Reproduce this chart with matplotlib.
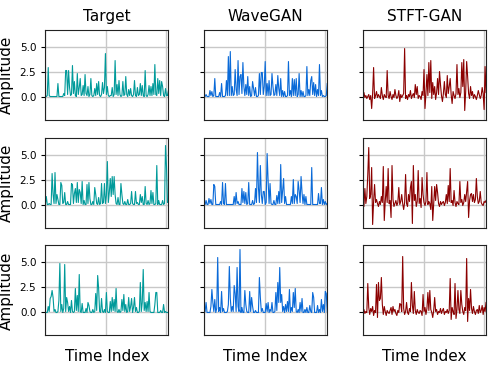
import numpy as np
import matplotlib
matplotlib.use("Agg")
import matplotlib.pyplot as plt

# column titles and colours
models = ["Target", "WaveGAN", "STFT-GAN"]
colors = ["#009a9a", "#0a6ad8", "#8b0000"]

# every sample is 8 time steps apart (128 samples -> ~1024 steps)
step = 8

target_1 = [0.1, 0.0, 0.1, 2.9, 0.1, 0.0, 0.0, 0.0, 0.0, 0.0, 0.0, 0.0, 0.0, 1.3, 0.0, 0.0,
            0.0, 0.0, 0.0, 0.3, 0.1, 2.6, 2.6, 0.2, 2.6, 0.9, 0.1, 0.2, 3.1, 0.3, 1.5, 0.1,
            0.0, 2.3, 0.2, 0.9, 1.8, 0.1, 0.2, 1.1, 0.1, 2.2, 0.3, 0.1, 1.0, 0.0, 0.2, 1.8,
            0.1, 0.0, 0.1, 0.8, 0.1, 1.3, 0.2, 1.5, 0.1, 0.0, 0.2, 1.4, 0.3, 0.9, 4.3, 0.2,
            1.0, 0.1, 0.0, 0.1, 0.1, 0.9, 0.0, 0.2, 3.6, 0.2, 1.2, 0.1, 1.6, 0.2, 0.0, 0.1,
            1.5, 0.1, 0.2, 2.0, 0.2, 0.0, 0.7, 0.1, 0.8, 0.1, 0.0, 0.2, 1.6, 0.1, 0.0, 0.9,
            0.1, 0.2, 1.3, 0.1, 1.1, 0.1, 0.0, 2.6, 0.1, 0.0, 0.2, 1.1, 0.1, 1.0, 0.1, 1.3,
            0.2, 3.2, 0.2, 0.1, 1.8, 0.3, 1.6, 0.1, 1.5, 1.0, 0.1, 0.0, 0.8, 0.1, 0.1, 0.6]
wavegan_1 = [0.0, 0.0, 0.2, 0.0, 0.0, 0.0, 0.6, 0.1, 0.5, 0.0, 0.1, 1.8, 0.0, 0.0, 0.0, 0.0,
             0.4, 0.0, 1.3, 0.0, 0.0, 0.0, 0.1, 1.6, 0.1, 4.0, 0.1, 4.5, 0.1, 1.0, 0.1, 0.2,
             2.7, 0.7, 0.1, 3.6, 0.2, 2.0, 2.2, 0.3, 3.4, 1.0, 0.1, 1.2, 0.2, 2.0, 0.1, 1.0,
             0.0, 0.1, 1.5, 0.8, 0.1, 0.9, 0.0, 0.0, 0.1, 2.3, 0.2, 2.4, 2.4, 0.2, 1.0, 3.5,
             0.1, 1.3, 0.1, 1.6, 0.1, 0.2, 2.3, 1.0, 0.1, 0.2, 1.2, 0.1, 2.1, 0.8, 0.1, 1.8,
             0.0, 0.6, 0.0, 0.5, 0.0, 0.0, 0.1, 3.5, 0.1, 0.6, 0.0, 1.8, 0.1, 1.7, 0.1, 1.8,
             0.0, 0.2, 2.3, 0.0, 0.6, 0.0, 0.5, 0.0, 0.0, 0.1, 3.0, 0.1, 0.7, 0.1, 1.6, 2.0,
             0.2, 1.4, 0.1, 1.2, 0.0, 0.7, 0.1, 3.2, 0.1, 0.6, 0.0, 0.1, 0.0, 0.0, 0.1, 1.3]
stftgan_1 = [0.2, 0.4, -0.1, 0.1, -0.2, 0.0, 0.2, -0.3, 0.1, -1.2, 0.3, 2.9, -0.2, 0.1, 0.5, -0.1,
             0.2, 0.0, -0.2, 0.9, 0.1, -0.3, 0.2, 0.0, -0.1, 2.6, 0.1, -0.2, 0.5, 0.0, -0.3, 0.2,
             -0.1, 0.7, 0.1, -0.2, 0.0, 0.6, -0.5, 0.2, -0.1, 0.1, 0.3, 4.8, -0.2, 0.1, -0.3, 0.2,
             0.0, 0.6, -0.2, 0.1, 0.3, -0.1, 1.2, 0.2, 1.0, -0.2, 0.1, 0.0, -0.3, 0.5, 0.1, 2.7,
             -1.2, 0.3, 2.2, 0.1, 3.4, 0.4, 3.6, -0.2, 1.4, 0.2, 1.0, -0.3, 0.4, 1.8, 0.2, 2.5,
             1.2, 0.1, -0.5, 0.3, 1.5, 0.2, -0.1, 2.1, 0.3, 1.0, 1.8, 0.2, -0.7, 0.5, 0.1, -0.2,
             0.3, 3.2, 0.2, 0.8, -0.1, 0.4, 3.4, 1.0, 3.7, -1.4, 0.5, 3.5, 2.0, 0.3, -0.2, 1.0,
             0.1, 0.5, -0.2, 0.2, 0.0, -0.3, 0.1, 0.6, 0.2, -0.2, 0.1, 0.9, 0.3, -1.3, 3.0, 0.4]

target_2 = [0.0, 0.8, 0.0, 0.0, 0.1, 0.0, 0.0, 3.1, 1.0, 0.1, 3.2, 0.1, 1.0, 0.5, 0.0, 0.0,
            2.2, 1.9, 0.1, 0.2, 1.2, 0.0, 0.0, 0.3, 0.0, 0.0, 0.0, 2.1, 2.0, 0.1, 1.1, 1.6,
            0.2, 2.2, 0.2, 1.5, 1.2, 0.1, 2.3, 0.0, 0.4, 0.0, 0.0, 2.0, 0.1, 2.2, 0.6, 0.0,
            0.0, 0.3, 0.0, 1.7, 1.0, 0.1, 0.0, 0.7, 0.0, 0.1, 2.1, 0.1, 0.2, 2.1, 0.1, 0.9,
            4.3, 0.2, 1.2, 2.6, 0.8, 2.8, 1.0, 2.8, 1.0, 0.1, 0.0, 0.7, 0.0, 0.0, 2.1, 1.0,
            0.1, 0.0, 0.3, 0.0, 0.0, 0.5, 0.0, 0.0, 0.1, 1.3, 0.1, 0.0, 0.0, 1.3, 0.1, 0.2,
            0.0, 0.0, 1.0, 0.2, 0.8, 0.0, 0.0, 1.8, 0.1, 0.0, 0.4, 0.0, 0.1, 1.4, 0.1, 1.2,
            0.0, 0.0, 0.1, 3.9, 0.0, 0.4, 0.0, 0.0, 0.0, 0.4, 0.0, 0.1, 5.9, 3.8, 0.2, 0.3]
wavegan_2 = [0.0, 0.0, 0.4, 0.0, 0.0, 0.6, 0.1, 0.5, 0.0, 0.0, 2.0, 1.8, 0.0, 0.0, 0.0, 0.0,
             0.0, 0.3, 0.0, 2.2, 0.1, 0.0, 2.1, 0.0, 0.0, 0.0, 0.0, 0.0, 0.0, 0.0, 0.0, 0.8,
             0.0, 1.2, 0.1, 0.3, 0.0, 0.0, 0.0, 1.6, 0.2, 1.3, 0.1, 1.2, 0.0, 0.1, 2.2, 0.0,
             0.0, 0.0, 0.4, 0.0, 0.1, 1.6, 0.2, 5.2, 1.7, 0.2, 3.9, 1.0, 0.1, 1.3, 1.3, 0.0,
             0.2, 5.1, 2.4, 0.1, 2.1, 0.1, 0.0, 0.0, 0.4, 0.0, 0.0, 0.9, 0.1, 1.3, 0.1, 4.0,
             0.2, 1.4, 2.6, 0.1, 0.8, 0.0, 0.0, 0.0, 0.0, 0.0, 0.8, 0.1, 2.5, 0.1, 1.0, 0.8,
             0.1, 2.3, 1.4, 0.2, 2.8, 1.2, 0.1, 1.0, 0.0, 0.8, 0.0, 0.0, 0.0, 0.0, 0.0, 3.7,
             0.0, 0.0, 0.0, 0.0, 0.0, 0.0, 1.1, 0.1, 0.1, 1.7, 0.0, 0.5, 0.0, 0.3, 0.0, 0.1]
stftgan_2 = [0.3, -0.2, 1.6, 0.1, 0.8, 3.0, 5.7, 0.6, 1.0, 3.7, -2.0, 0.3, 2.0, 0.2, 0.5, 0.1,
             -0.2, 0.3, 0.0, 0.8, 0.2, 3.8, -1.6, 0.3, 1.8, 0.2, 3.6, 0.1, 0.4, -1.3, 3.9, 0.5,
             -0.2, 0.1, 0.4, -0.1, 0.2, 1.7, 0.0, 0.3, 1.0, 0.1, -0.5, 0.2, 3.0, 0.1, -0.2, 1.0,
             0.3, 1.7, 2.3, -1.9, 3.9, 0.4, 1.0, -0.2, 0.3, 3.4, 0.1, 0.6, -0.3, 2.7, 1.0, 0.2,
             -0.1, 0.3, 3.2, 0.0, 0.3, 0.1, -0.5, 1.8, -1.6, 0.2, 1.8, 0.4, 2.0, 1.2, 0.1, -0.2,
             0.3, 0.0, 0.2, 0.3, -0.1, 0.2, 1.0, 0.1, 1.9, 0.3, 3.6, 0.2, 0.4, -0.1, 1.4, 0.2,
             -0.2, 0.3, 0.1, 0.0, 2.3, 0.2, 0.5, -0.1, 0.2, 1.0, 0.3, 1.3, 2.3, -1.3, 0.4, 1.0,
             1.1, 0.3, 1.0, 0.2, 0.5, 2.6, 0.8, 0.1, 0.3, 1.3, 0.2, 0.0, -0.1, 0.3, 0.2, 0.4]

target_3 = [0.0, 0.0, 0.0, 0.6, 0.1, 1.4, 1.6, 2.2, 1.5, 0.1, 0.3, 0.0, 0.0, 0.1, 1.2, 4.9,
            0.1, 0.8, 0.0, 0.4, 4.8, 0.1, 1.5, 1.0, 0.1, 0.6, 0.0, 1.2, 0.1, 0.0, 0.1, 2.4,
            0.2, 1.7, 0.1, 3.8, 0.1, 0.0, 0.9, 0.0, 0.0, 0.0, 0.4, 0.0, 1.0, 0.7, 0.1, 0.0,
            0.0, 0.3, 0.0, 0.1, 1.9, 0.2, 3.7, 2.4, 0.1, 0.0, 1.4, 0.1, 0.0, 0.3, 0.0, 2.0,
            0.1, 0.0, 0.0, 1.1, 0.1, 1.5, 0.2, 1.3, 0.1, 2.4, 0.1, 0.0, 0.3, 0.0, 0.1, 1.3,
            0.2, 1.8, 0.1, 0.8, 0.0, 0.1, 1.5, 0.1, 0.6, 1.4, 0.0, 0.5, 1.5, 0.1, 0.5, 0.0,
            0.0, 0.1, 3.0, 0.1, 1.0, 4.3, 0.2, 1.0, 0.1, 1.1, 0.1, 2.0, 0.1, 0.0, 0.0, 0.0,
            0.0, 0.8, 2.0, 2.0, 0.0, 0.0, 0.0, 0.2, 0.0, 0.0, 0.8, 0.0, 0.1, 0.0, 0.0, 0.0]
wavegan_3 = [0.0, 0.1, 1.0, 0.0, 0.0, 0.0, 0.0, 0.6, 2.3, 1.0, 0.1, 1.3, 0.0, 0.4, 5.5, 0.1,
             0.5, 0.0, 2.1, 0.1, 0.4, 0.0, 0.0, 0.0, 0.1, 0.8, 4.6, 1.4, 0.1, 0.6, 0.1, 2.7,
             1.9, 0.1, 4.5, 0.6, 0.1, 6.3, 0.0, 0.5, 0.0, 0.0, 2.2, 0.8, 0.1, 0.0, 0.0, 2.1,
             0.1, 1.5, 0.6, 0.0, 0.0, 0.2, 0.0, 0.0, 0.0, 3.5, 1.5, 0.1, 0.4, 0.0, 0.0, 0.0,
             0.9, 0.1, 1.0, 0.0, 0.3, 0.1, 1.0, 0.0, 0.0, 0.1, 2.0, 0.2, 3.0, 1.0, 4.5, 1.0,
             1.8, 0.1, 0.6, 0.0, 0.8, 0.1, 1.1, 0.1, 2.3, 0.0, 0.5, 0.1, 2.0, 0.5, 2.4, 0.1,
             0.0, 0.3, 0.0, 1.0, 0.1, 1.4, 0.0, 0.0, 0.3, 0.0, 0.5, 0.0, 0.0, 0.7, 0.1, 0.0,
             2.0, 1.5, 0.0, 0.0, 0.0, 0.7, 0.0, 0.3, 0.0, 1.3, 0.1, 0.8, 0.0, 2.1, 1.9, 0.1]
stftgan_3 = [0.2, 0.3, -0.1, 0.1, 0.0, 2.9, 0.5, -0.2, 0.4, 0.1, 0.6, -0.3, 0.2, 0.0, 2.8, -0.5,
             3.0, 1.2, 1.4, 3.5, 0.8, -0.2, 0.6, 0.1, -0.3, 0.2, 0.0, -0.1, 0.2, 0.5, -0.2, 0.6,
             0.1, 0.3, -0.1, -0.3, 0.2, 0.0, 0.9, 0.8, 0.1, 5.6, 0.4, -0.2, 0.1, 1.0, 0.0, -0.2,
             0.4, 0.1, 3.0, 0.7, -0.1, 2.1, 0.2, -0.2, 0.3, 0.0, -0.1, 0.2, 0.1, -0.3, 1.8, 0.1,
             0.5, -0.2, 0.4, 2.0, 0.2, 2.2, 0.3, 0.0, -0.5, 0.2, 1.5, 0.1, 0.3, -0.2, 0.1, 0.0,
             0.4, -0.1, 0.2, 0.4, -0.2, 0.1, 0.0, 0.3, -0.1, 0.2, 3.4, -0.7, 0.5, 0.1, -0.2, 2.9,
             -0.6, 0.3, 2.2, 0.3, -0.1, 2.2, 0.8, 0.1, -0.2, 0.5, 0.2, 5.4, -0.9, 1.4, 0.2, 2.3,
             0.4, -0.1, 0.6, 0.1, -0.2, 0.2, 0.3, -0.1, 0.7, 0.0, 0.2, 0.7, -0.2, 0.5, 0.1, 1.0]

rows = [
    [target_1, wavegan_1, stftgan_1],
    [target_2, wavegan_2, stftgan_2],
    [target_3, wavegan_3, stftgan_3],
]

fig, axes = plt.subplots(3, 3, figsize=(4.98, 3.74), dpi=100,
                         sharex=True, sharey=True)
fig.subplots_adjust(left=0.091, right=0.976, top=0.921, bottom=0.103,
                    wspace=0.29, hspace=0.2)

for r, row in enumerate(rows):
    for c, series in enumerate(row):
        ax = axes[r, c]
        y = np.array(series)
        t = np.arange(len(y)) * step
        ax.plot(t, y, color=colors[c], linewidth=0.8)
        ax.grid(True, color="#c8c8c8", linewidth=1.0)
        ax.set_axisbelow(True)
        ax.set_xticks([0, 500, 1000])
        ax.set_yticks([0.0, 2.5, 5.0])
        ax.tick_params(axis="x", length=0, labelbottom=False)
        ax.tick_params(axis="y", labelsize=7.5, length=3)
        for sp in ax.spines.values():
            sp.set_color("#222222")
        if r == 0:
            ax.set_title(models[c], fontsize=11)
        if r == 2:
            ax.set_xlabel("Time Index", fontsize=11, labelpad=10)
        if c == 0:
            ax.set_ylabel("Amplitude", fontsize=11)

axes[0, 0].set_xlim(0, (len(target_1) - 1) * step)
axes[0, 0].set_ylim(-2.3, 6.7)
axes[0, 0].yaxis.set_major_formatter(matplotlib.ticker.FormatStrFormatter("%.1f"))

fig.savefig("out.png", dpi=100)
